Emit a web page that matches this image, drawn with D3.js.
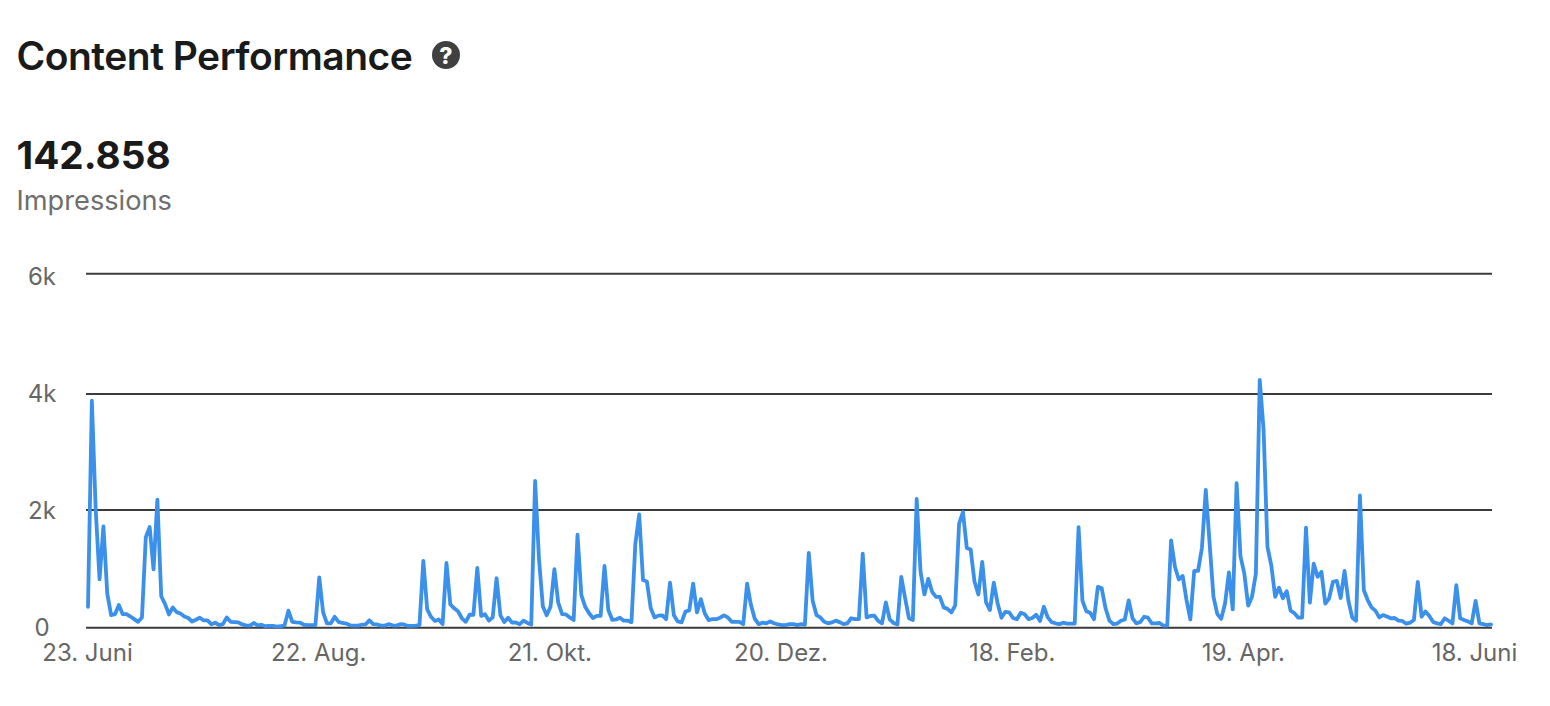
<!DOCTYPE html>
<html>
<head>
<meta charset="utf-8">
<title>Content Performance</title>
<script src="https://cdn.jsdelivr.net/npm/d3@7"></script>
<style>
    html, body { margin: 0; padding: 0; background: #fff; }
    svg { display: block; font-family: Inter, "Liberation Sans", sans-serif; }
    .axis { font-family: Inter, "Liberation Sans", sans-serif; }
    .axis text { font-size: 24px; fill: #666; }
    .axis path { display: none; }
</style>
</head>
<body>
<div id="chart"></div>
<script>
// daily impressions (365 days)
const impressions = [
    356, 3885, 2000, 820, 1720, 580, 215, 230, 385, 230, 230, 190, 145, 100, 175, 1540, 1710, 990, 2180,
    535, 400, 225, 345, 265, 240, 190, 165, 105, 135, 170, 125, 125, 60, 85, 45, 60, 175, 100, 95, 90,
    55, 40, 35, 80, 40, 50, 25, 30, 30, 20, 25, 40,
    290, 100, 90, 85, 50, 45, 45, 45, 855,
    260, 75, 75, 185, 100, 80, 70, 40, 35, 35, 50, 55, 125, 60, 55, 35, 35, 60, 40, 35, 60, 55, 30, 30, 35, 45,
    1135, 310, 185, 115, 140, 60, 1100, 395, 330, 280, 160, 100, 220, 220, 1015, 200, 230, 120, 175, 840,
    210, 95, 170, 85, 90, 60, 120, 80, 55, 2500, 1175, 365, 210, 355, 995, 425, 230, 225, 175, 130,
    1580, 555, 355, 245, 165, 200, 200, 1050, 300, 135, 140, 170, 120, 120, 95, 1420, 1925, 810, 785,
    330, 175, 205, 210, 145, 765, 210, 105, 90, 275, 295, 750, 260, 485, 245, 130, 145, 145, 170, 210,
    175, 100, 100, 100, 60, 750, 385, 150, 60, 85, 75, 105,
    75, 55, 45, 45, 60, 60, 45, 60, 50, 1270, 460, 215, 175, 100, 75, 90, 120, 95, 60, 75, 160, 145, 145,
    1260, 175, 200, 205, 115, 75, 430, 140, 80, 55, 865, 500, 160, 130, 2190, 950, 565, 830, 610, 525, 525,
    345, 320, 260, 380, 1770, 1965, 1355, 1330, 780, 565, 1120, 430, 300, 765, 410, 170, 270, 260, 165, 145,
    255, 230, 145, 165, 220, 115, 355, 175, 95, 75, 60, 85, 70, 70, 70, 1710, 460, 280, 255, 145, 695, 670,
    330, 120, 60, 70,
    118, 140, 465, 160, 73, 96, 186, 170, 73, 73, 80, 34, 34, 1485, 1035, 820, 880, 470, 140, 965, 965, 1355,
    2345, 1430, 525, 230, 150, 410, 940, 310, 2465, 1215, 920, 375, 525, 920, 4235, 3380, 1375, 1060, 525,
    680, 500, 620, 290, 245, 170, 170, 1700, 425, 1090, 865, 950, 410, 500, 780, 795, 505, 965, 460, 170, 120,
    2250, 640, 470, 345, 290, 175, 215, 190, 160, 165, 120, 115, 68, 85, 130, 780, 186, 277, 200, 96, 73, 62,
    160, 118, 73, 723, 160, 130, 107, 73, 457, 73, 62, 45, 56
];

const yTicks = [0, 2000, 4000, 6000];
const yTickLabels = ["0", "2k", "4k", "6k"];
const xTickLabels = ["23. Juni", "22. Aug.", "21. Okt.", "20. Dez.", "18. Feb.", "19. Apr.", "18. Juni"];

const width = 1550, height = 706;

const svg = d3.select("#chart").append("svg")
    .attr("width", width)
    .attr("height", height);

// header
svg.append("text")
    .attr("x", 16.5).attr("y", 69.5)
    .style("font-size", "39px").style("font-weight", 600).style("letter-spacing", "-0.5px")
    .style("fill", "#1a1a1a")
    .text("Content Performance");

svg.append("circle")
    .attr("cx", 446).attr("cy", 55).attr("r", 14)
    .attr("fill", "#404040");

svg.append("text")
    .attr("x", 446).attr("y", 63.5)
    .attr("text-anchor", "middle")
    .style("font-size", "23px").style("font-weight", 800)
    .style("fill", "#fff")
    .text("?");

svg.append("text")
    .attr("x", 16.5).attr("y", 169)
    .style("font-size", "38.7px").style("font-weight", 700)
    .style("fill", "#1a1a1a")
    .text("142.858");

svg.append("text")
    .attr("x", 16.5).attr("y", 210)
    .style("font-size", "27.2px")
    .style("fill", "#6e6e6e")
    .text("Impressions");

// scales. the gridlines are not evenly spaced in the picture, hence the extra stops
const xScale = d3.scaleLinear()
    .domain([0, impressions.length - 1])
    .range([88, 1491]);

const yScale = d3.scaleLinear()
    .domain(yTicks)
    .range([627.7, 510, 394, 273.7]);

// the tick labels sit on their own even spacing
const yLabelScale = d3.scaleLinear()
    .domain([0, 6000])
    .range([628, 277]);

const xLabelScale = d3.scalePoint()
    .domain(xTickLabels)
    .range([87, 1474]);

// gridlines
svg.append("g").selectAll("line")
    .data(yTicks)
    .enter().append("line")
    .attr("x1", 86)
    .attr("x2", 1492)
    .attr("y1", d => yScale(d))
    .attr("y2", d => yScale(d))
    .attr("stroke", "#3c3c3c")
    .attr("stroke-width", 2);

// axes
svg.append("g")
    .attr("class", "axis")
    .attr("transform", "translate(42,0)")
    .call(d3.axisLeft(yLabelScale)
        .tickValues(yTicks)
        .tickSize(0)
        .tickPadding(0)
        .tickFormat((d, i) => yTickLabels[i]))
    .call(g => g.attr("font-family", null).selectAll("text").attr("text-anchor", "middle"));

svg.append("g")
    .attr("class", "axis")
    .attr("transform", "translate(0,644)")
    .call(d3.axisBottom(xLabelScale).tickSize(0).tickPadding(0))
    .call(g => g.attr("font-family", null));

// impressions line
const line = d3.line()
    .x((d, i) => xScale(i))
    .y(d => yScale(d));

svg.append("path")
    .datum(impressions)
    .attr("fill", "none")
    .attr("stroke", "#3a90ea")
    .attr("stroke-width", 3.8)
    .attr("stroke-linejoin", "round")
    .attr("stroke-linecap", "round")
    .attr("d", line);
</script>
</body>
</html>
